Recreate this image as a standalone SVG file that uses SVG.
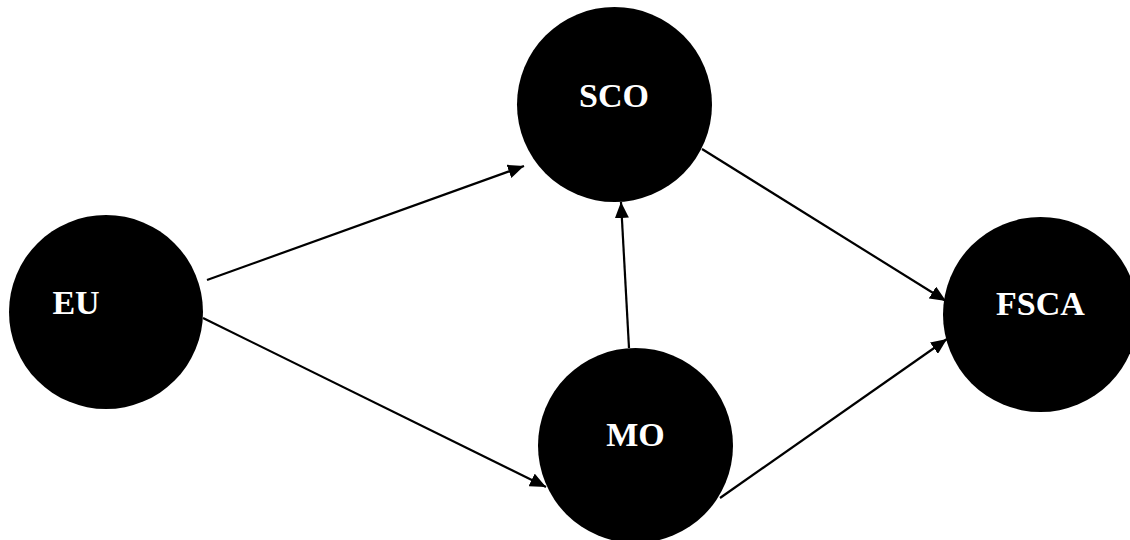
<svg xmlns="http://www.w3.org/2000/svg" width="1130" height="540" viewBox="0 0 1130 540">
<style>
.node{fill:#000}
.lbl{font-family:"Liberation Serif","Times New Roman",serif;font-weight:bold;font-size:34px;fill:#fff}
.edge{stroke:#000;stroke-width:2.2;fill:none;marker-end:url(#ah)}
</style>
<defs>
<marker id="ah" markerUnits="userSpaceOnUse" markerWidth="16" markerHeight="14" refX="16" refY="7" orient="auto">
<path d="M0,0 L16,7 L0,14 Z" fill="#000"/>
</marker>
</defs>
<rect width="1130" height="540" fill="#fff"/>
<g id="connectors">
<line class="edge" x1="207" y1="280" x2="524" y2="166"/>
<line class="edge" x1="203" y1="318" x2="546" y2="487"/>
<line class="edge" x1="629" y1="348" x2="621" y2="202"/>
<line class="edge" x1="702" y1="149" x2="946" y2="301"/>
<line class="edge" x1="720" y1="498" x2="947" y2="339"/>
</g>
<g id="node-sco">
<circle class="node" cx="614.5" cy="104.5" r="97.5"/>
<text class="lbl" x="614" y="107" text-anchor="middle">SCO</text>
</g>
<g id="node-eu">
<circle class="node" cx="106" cy="312" r="97"/>
<text class="lbl" x="76" y="314" text-anchor="middle">EU</text>
</g>
<g id="node-mo">
<circle class="node" cx="635.5" cy="445.5" r="97.5"/>
<text class="lbl" x="635.5" y="446" text-anchor="middle">MO</text>
</g>
<g id="node-fsca">
<circle class="node" cx="1040.5" cy="314.5" r="97.5"/>
<text class="lbl" x="1040.5" y="315" text-anchor="middle">FSCA</text>
</g>
</svg>
